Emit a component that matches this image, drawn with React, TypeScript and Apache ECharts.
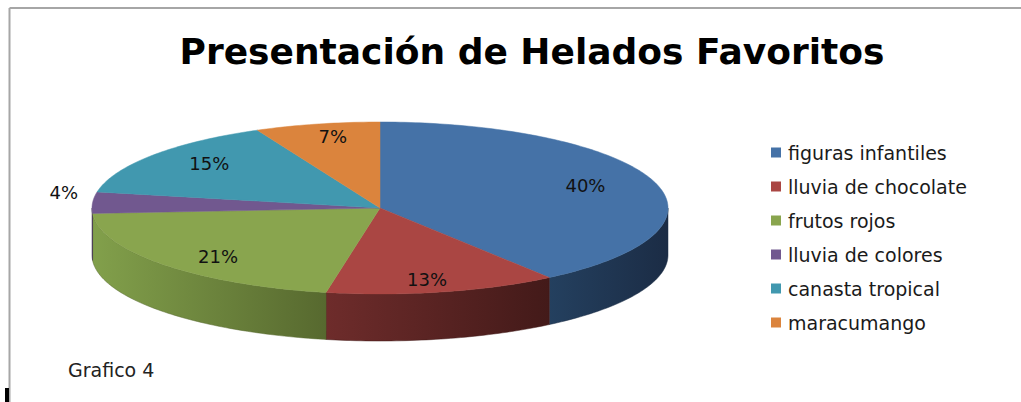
import React, { useEffect, useRef } from "react";
import * as echarts from "echarts";

const categories = [
  "figuras infantiles",
  "lluvia de chocolate",
  "frutos rojos",
  "lluvia de colores",
  "canasta tropical",
  "maracumango",
];
const values = [40, 13, 21, 4, 15, 7];

const topColors = ["#4572A7", "#AA4643", "#89A54E", "#71588F", "#4198AF", "#DB843D"];
const sideLight = ["#24405F", "#6E2C2B", "#82A04B", "#5A4672", "#347A8C", "#B06A30"];
const sideDark = ["#1B2C45", "#431A19", "#57692F", "#3E304F", "#245563", "#7A4921"];

const CX = 380;
const CY = 208;
const RX = 288;
const RY = 86;
const DEPTH = 47;
const FONT = "DejaVu Sans";

export default function App() {
  const ref = useRef<HTMLDivElement>(null);
  useEffect(() => {
    if (!ref.current) return;
    const chart = echarts.init(ref.current, null, { renderer: "svg" });
    const total = values.reduce((a, b) => a + b, 0);
    const pt = (deg: number, dy = 0, kx = 1, ky = kx): number[] => {
      const r = (deg * Math.PI) / 180;
      return [CX + RX * kx * Math.sin(r), CY - RY * ky * Math.cos(r) + dy];
    };
    const renderItem = (params: any, api: any) => {
      const i = params.seriesIndex;
      const v = api.value(0);
      let before = 0;
      for (let j = 0; j < i; j++) before += values[j];
      const start = (before / total) * 360;
      const end = start + (v / total) * 360;
      const topPts: number[][] = [[CX, CY]];
      for (let a = start; a < end; a += 1) topPts.push(pt(a));
      topPts.push(pt(end));
      const children: any[] = [];
      const a0 = Math.max(start, 90);
      const a1 = Math.min(end, 270);
      if (a0 < a1) {
        const sidePts: number[][] = [];
        for (let a = a0; a < a1; a += 1) sidePts.push(pt(a));
        sidePts.push(pt(a1));
        for (let a = a1; a > a0; a -= 1) sidePts.push(pt(a, DEPTH));
        sidePts.push(pt(a0, DEPTH));
        children.push({
          type: "polygon",
          z2: 1,
          shape: { points: sidePts },
          style: {
            fill: new echarts.graphic.LinearGradient(0, 0, 1, 0, [
              { offset: 0, color: sideLight[i] },
              { offset: 1, color: sideDark[i] },
            ]),
            stroke: sideDark[i],
            lineWidth: 0.5,
          },
        });
      }
      children.push({
        type: "polygon",
        z2: 5,
        shape: { points: topPts },
        style: { fill: topColors[i], stroke: topColors[i], lineWidth: 0.5 },
      });
      const share = v / total;
      const mid = (start + end) / 2;
      const lp = share < 0.05 ? pt(mid, -10, 1.1, 1.1) : pt(mid, 0, 0.75, 0.85);
      children.push({
        type: "text",
        z2: 10,
        x: lp[0],
        y: lp[1],
        style: {
          text: Math.round(share * 100) + "%",
          fill: "#111",
          font: `18px "${FONT}"`,
          align: "center",
          verticalAlign: "middle",
        },
      });
      return { type: "group", children };
    };

    chart.setOption({
      animation: false,
      color: topColors,
      title: {
        text: "Presentación de Helados Favoritos",
        left: 527,
        textAlign: "center",
        top: 28,
        textStyle: { fontFamily: FONT, fontWeight: "bold", fontSize: 36, color: "#000" },
      },
      legend: {
        orient: "vertical",
        left: 766,
        top: 138,
        icon: "rect",
        itemWidth: 10,
        itemHeight: 10,
        itemGap: 15,
        selectedMode: false,
        data: categories,
        textStyle: { fontFamily: FONT, fontSize: 19, color: "#1a1a1a", padding: [0, 0, 0, 2] },
      },
      graphic: [
        { type: "line", shape: { x1: 9.5, y1: 8, x2: 1021, y2: 8 }, style: { stroke: "#A6A6A6", lineWidth: 2 } },
        { type: "line", shape: { x1: 9.5, y1: 8, x2: 9.5, y2: 402 }, style: { stroke: "#A6A6A6", lineWidth: 2 } },
        { type: "rect", shape: { x: 5, y: 388, width: 4, height: 14 }, style: { fill: "#000" } },
        {
          type: "text",
          x: 68,
          y: 370,
          style: { text: "Grafico 4", font: `19px "${FONT}"`, fill: "#222", verticalAlign: "middle" },
        },
      ],
      series: categories.map((name, i) => ({
        type: "custom",
        name,
        coordinateSystem: "none",
        itemStyle: { color: topColors[i] },
        renderItem,
        data: [[values[i]]],
      })),
    });
    return () => chart.dispose();
  }, []);
  return (
    <div
      ref={ref}
      style={{ position: "fixed", left: 0, top: 0, width: 1021, height: 402, background: "#fff" }}
    />
  );
}
